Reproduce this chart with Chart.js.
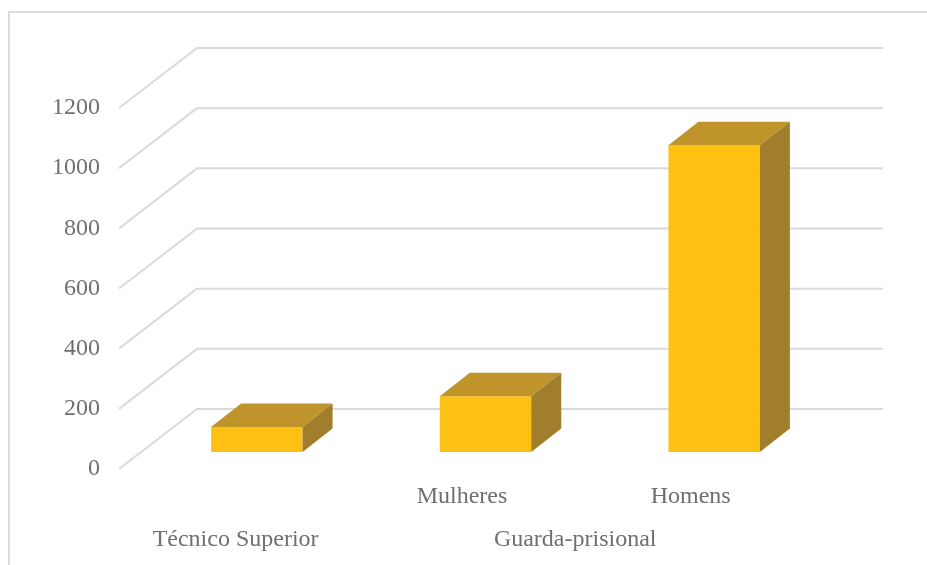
<!DOCTYPE html>
<html>
<head>
<meta charset="utf-8">
<style>
html,body{margin:0;padding:0;background:#fff;width:927px;height:565px;overflow:hidden}
#frame{position:absolute;left:8px;top:11px;width:919px;height:554px;border-left:2px solid #dcdcdc;border-top:2px solid #dcdcdc;box-sizing:border-box}
canvas{position:absolute;left:0;top:0;filter:blur(0.55px)}
</style>
<script src="https://cdn.jsdelivr.net/npm/chart.js@4/dist/chart.umd.min.js"></script>
</head>
<body>
<div id="frame"></div>
<canvas id="c" width="927" height="565"></canvas>
<script>
const categories = ['', 'Mulheres', 'Homens'];
const values = [83, 185, 1020];
const groupLabels = ['Técnico Superior', 'Guarda-prisional'];
const groupCenters = [0.51, 1.995];
const yTicks = { min: 0, max: 1200, stepSize: 200 };

const FONT = { family: '"Liberation Serif","Times New Roman",serif', size: 24 };
const TEXT = '#6f6f6f', GRID = '#dadada';
const FRONT = '#FEC012', TOP = '#BF942A', SIDE = '#A17E2C';
const WALL = { dx: 78, dy: -60 };
const BAR = { shiftX: 23.5, shiftY: -17, dx: 30, dy: -23.5 };

const threeD = {
  id: 'threeD',
  beforeDatasetsDraw(chart) {
    const { ctx, chartArea: a, scales: { y } } = chart;
    ctx.save();
    ctx.strokeStyle = GRID;
    ctx.lineWidth = 2;
    ctx.lineJoin = 'round';
    y.ticks.forEach(t => {
      const py = y.getPixelForValue(t.value);
      ctx.beginPath();
      ctx.moveTo(a.left, py);
      ctx.lineTo(a.left + WALL.dx, py + WALL.dy);
      ctx.lineTo(a.right + WALL.dx, py + WALL.dy);
      ctx.stroke();
    });
    ctx.restore();
    ctx.save();
    ctx.translate(BAR.shiftX, BAR.shiftY);
  },
  afterDatasetsDraw(chart) {
    const { ctx } = chart;
    chart.getDatasetMeta(0).data.forEach(b => {
      const { x, y, base, width } = b.getProps(['x', 'y', 'base', 'width'], true);
      const l = x - width / 2, r = x + width / 2;
      ctx.fillStyle = TOP;
      ctx.beginPath();
      ctx.moveTo(l, y);
      ctx.lineTo(l + BAR.dx, y + BAR.dy);
      ctx.lineTo(r + BAR.dx, y + BAR.dy);
      ctx.lineTo(r, y);
      ctx.closePath();
      ctx.fill();
      ctx.fillStyle = SIDE;
      ctx.beginPath();
      ctx.moveTo(r, y);
      ctx.lineTo(r + BAR.dx, y + BAR.dy);
      ctx.lineTo(r + BAR.dx, base + BAR.dy);
      ctx.lineTo(r, base);
      ctx.closePath();
      ctx.fill();
    });
    ctx.restore();
  }
};

new Chart(document.getElementById('c'), {
  type: 'bar',
  data: {
    labels: categories,
    datasets: [{
      data: values,
      backgroundColor: FRONT,
      borderWidth: 0,
      barPercentage: 0.4,
      categoryPercentage: 1
    }]
  },
  options: {
    responsive: false,
    animation: false,
    layout: { padding: { left: 0, top: 108, right: 122, bottom: 0 } },
    plugins: { legend: { display: false }, tooltip: { enabled: false } },
    scales: {
      y: {
        min: yTicks.min, max: yTicks.max,
        grid: { display: false, drawTicks: false },
        border: { display: false },
        ticks: { stepSize: yTicks.stepSize, color: TEXT, font: FONT, padding: 19, callback: v => String(v) },
        afterFit(s) { s.width = 119; }
      },
      x: {
        grid: { display: false, drawTicks: false },
        border: { display: false },
        ticks: { color: TEXT, font: FONT, padding: 13, maxRotation: 0, autoSkip: false },
        afterFit(s) { s.height = 54; }
      },
      x2: {
        type: 'linear', axis: 'x', position: 'bottom',
        offset: false,
        min: 0, max: categories.length,
        grid: { display: false, drawTicks: false },
        border: { display: false },
        afterBuildTicks(s) { s.ticks = groupCenters.map(v => ({ value: v })); },
        ticks: {
          color: TEXT, font: FONT, padding: 2, maxRotation: 0, autoSkip: false,
          callback(v, i) { return groupLabels[i]; }
        },
        afterFit(s) { s.height = 42; }
      }
    }
  },
  plugins: [threeD]
});
</script>
</body>
</html>
